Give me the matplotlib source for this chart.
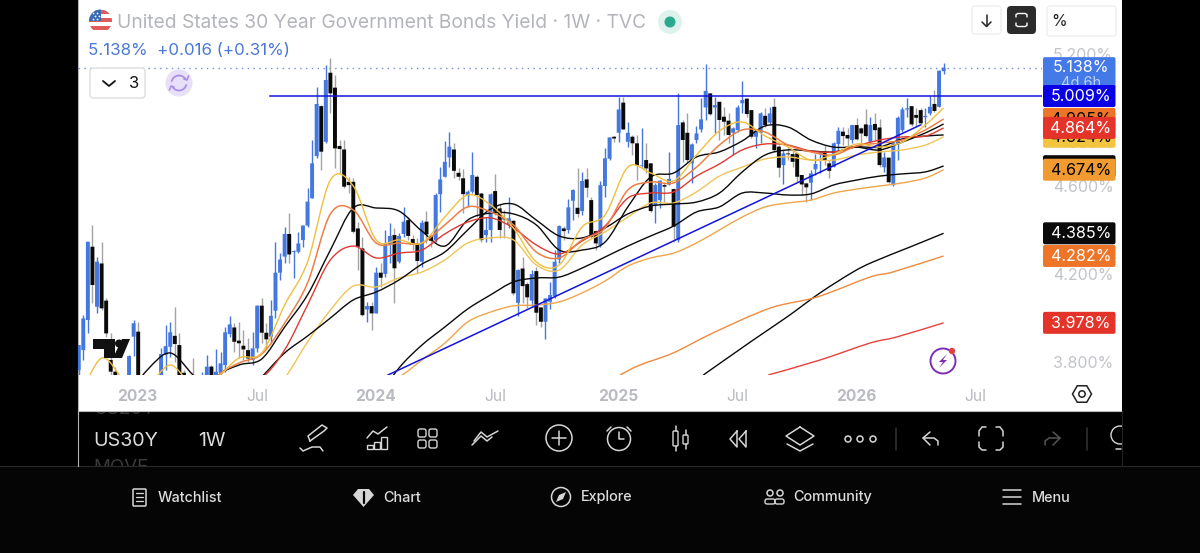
import numpy as np
import matplotlib
matplotlib.use("Agg")
import matplotlib.pyplot as plt
from matplotlib.patches import FancyBboxPatch, Circle, Rectangle, Polygon, Arc, PathPatch
from matplotlib.path import Path

plt.rcParams['font.family'] = ['Inter', 'DejaVu Sans']

# --- weekly candles, US30Y ---
opens = [
    3.763, 3.854, 3.991, 4.324, 4.051, 4.248, 4.079, 3.809, 3.756, 3.700,
    3.640, 3.718, 3.915, 3.938, 3.700, 3.640, 3.660, 3.710, 3.718, 3.832,
    3.869, 3.919, 3.877, 3.751, 3.680, 3.720, 3.700, 3.690, 3.741, 3.779,
    3.726, 3.751, 3.786, 3.927, 3.957, 3.897, 3.874, 3.854, 3.809, 3.862,
    4.056, 3.933, 3.915, 4.033, 4.206, 4.279, 4.382, 4.300, 4.301, 4.354,
    4.420, 4.544, 4.736, 4.963, 4.801, 5.115, 5.047, 4.782, 4.766, 4.619,
    4.619, 4.407, 4.316, 4.039, 4.054, 4.021, 4.206, 4.200, 4.336, 4.377,
    4.256, 4.382, 4.445, 4.359, 4.339, 4.256, 4.438, 4.373, 4.354, 4.563,
    4.642, 4.730, 4.766, 4.660, 4.635, 4.556, 4.574, 4.642, 4.566, 4.377,
    4.400, 4.577, 4.498, 4.453, 4.423, 4.442, 4.069, 4.225, 4.154, 4.079,
    4.213, 4.048, 3.983, 4.074, 4.100, 4.266, 4.407, 4.400, 4.533, 4.501,
    4.486, 4.630, 4.536, 4.395, 4.332, 4.600, 4.724, 4.824, 4.842, 4.979,
    4.801, 4.824, 4.794, 4.692, 4.718, 4.703, 4.513, 4.536, 4.604, 4.607,
    4.586, 4.354, 4.889, 4.842, 4.703, 4.809, 4.857, 4.957, 5.021, 4.957,
    4.983, 4.915, 4.897, 4.842, 4.854, 4.976, 4.997, 4.945, 4.824, 4.842,
    4.919, 4.888, 4.960, 4.779, 4.695, 4.748, 4.745, 4.748, 4.650, 4.612,
    4.615, 4.676, 4.745, 4.756, 4.703, 4.688, 4.791, 4.847, 4.832, 4.809,
    4.877, 4.862, 4.880, 4.801, 4.882, 4.866, 4.685, 4.729, 4.604, 4.794,
    4.854, 4.948, 4.963, 4.923, 4.945, 4.913, 4.930, 4.973, 4.960, 5.122,
]
highs = [
    3.877, 4.013, 4.347, 4.423, 4.279, 4.347, 4.089, 3.930, 3.779, 3.700,
    3.720, 3.832, 3.991, 3.983, 3.710, 3.720, 3.720, 3.720, 3.862, 3.968,
    3.983, 4.051, 3.930, 3.763, 3.740, 3.816, 3.720, 3.756, 3.832, 3.786,
    3.857, 3.847, 3.960, 4.010, 3.976, 3.980, 3.945, 3.910, 3.938, 4.059,
    4.089, 3.976, 4.082, 4.347, 4.294, 4.415, 4.476, 4.309, 4.392, 4.423,
    4.589, 4.809, 5.051, 4.968, 5.150, 5.180, 5.104, 4.809, 4.809, 4.642,
    4.635, 4.438, 4.370, 4.074, 4.074, 4.233, 4.248, 4.400, 4.430, 4.407,
    4.385, 4.506, 4.460, 4.377, 4.362, 4.445, 4.486, 4.377, 4.569, 4.685,
    4.806, 4.847, 4.794, 4.680, 4.676, 4.582, 4.756, 4.650, 4.566, 4.460,
    4.566, 4.654, 4.516, 4.491, 4.551, 4.445, 4.225, 4.279, 4.165, 4.218,
    4.233, 4.051, 4.089, 4.165, 4.309, 4.423, 4.420, 4.539, 4.585, 4.680,
    4.665, 4.680, 4.551, 4.400, 4.622, 4.774, 4.824, 4.827, 5.006, 5.006,
    4.892, 4.832, 4.832, 4.862, 4.797, 4.703, 4.612, 4.627, 4.619, 4.756,
    4.589, 5.021, 4.900, 4.930, 4.794, 4.874, 4.998, 5.153, 5.024, 5.006,
    4.983, 4.960, 4.930, 4.870, 4.968, 5.077, 4.998, 4.945, 4.854, 4.938,
    4.953, 4.960, 4.998, 4.786, 4.763, 4.779, 4.763, 4.748, 4.650, 4.615,
    4.673, 4.745, 4.756, 4.786, 4.718, 4.801, 4.870, 4.866, 4.862, 4.877,
    4.907, 4.870, 4.948, 4.915, 4.930, 4.903, 4.756, 4.729, 4.794, 4.918,
    4.960, 5.001, 4.963, 4.953, 4.953, 4.953, 5.009, 5.036, 5.127, 5.160,
]
lows = [
    3.720, 3.809, 3.930, 4.066, 4.021, 4.036, 3.915, 3.725, 3.703, 3.620,
    3.620, 3.703, 3.827, 3.703, 3.640, 3.620, 3.640, 3.650, 3.703, 3.763,
    3.824, 3.801, 3.703, 3.703, 3.660, 3.660, 3.640, 3.670, 3.718, 3.703,
    3.703, 3.733, 3.756, 3.915, 3.847, 3.816, 3.809, 3.801, 3.786, 3.847,
    3.885, 3.862, 3.885, 3.998, 4.173, 4.248, 4.248, 4.180, 4.294, 4.324,
    4.415, 4.544, 4.726, 4.673, 4.794, 4.930, 4.680, 4.657, 4.589, 4.566,
    4.388, 4.218, 4.010, 3.983, 3.945, 4.021, 4.142, 4.188, 4.248, 4.066,
    4.248, 4.370, 4.354, 4.309, 4.203, 4.233, 4.339, 4.324, 4.347, 4.483,
    4.639, 4.688, 4.635, 4.627, 4.476, 4.506, 4.566, 4.460, 4.347, 4.347,
    4.347, 4.468, 4.362, 4.362, 4.407, 4.104, 4.010, 4.066, 4.044, 4.051,
    3.968, 3.960, 3.903, 4.039, 4.089, 4.248, 4.354, 4.388, 4.445, 4.460,
    4.468, 4.551, 4.362, 4.309, 4.324, 4.551, 4.718, 4.801, 4.801, 4.857,
    4.779, 4.741, 4.627, 4.688, 4.657, 4.483, 4.430, 4.498, 4.529, 4.604,
    4.347, 4.347, 4.710, 4.710, 4.612, 4.794, 4.847, 4.900, 4.923, 4.839,
    4.809, 4.832, 4.794, 4.741, 4.847, 4.930, 4.915, 4.816, 4.771, 4.794,
    4.869, 4.882, 4.756, 4.642, 4.607, 4.718, 4.688, 4.619, 4.559, 4.529,
    4.536, 4.650, 4.660, 4.695, 4.635, 4.688, 4.756, 4.786, 4.779, 4.794,
    4.809, 4.779, 4.824, 4.794, 4.809, 4.688, 4.662, 4.612, 4.600, 4.718,
    4.847, 4.915, 4.873, 4.869, 4.877, 4.869, 4.923, 4.938, 4.960, 5.109,
]
closes = [
    3.877, 3.998, 4.347, 4.150, 4.256, 4.044, 3.930, 3.756, 3.718, 3.640,
    3.700, 3.827, 3.976, 3.718, 3.660, 3.700, 3.710, 3.670, 3.836, 3.872,
    3.935, 3.882, 3.726, 3.718, 3.720, 3.690, 3.660, 3.730, 3.779, 3.718,
    3.756, 3.794, 3.935, 3.971, 3.892, 3.885, 3.857, 3.816, 3.862, 4.056,
    3.933, 3.903, 4.010, 4.206, 4.266, 4.382, 4.289, 4.304, 4.339, 4.420,
    4.529, 4.703, 4.973, 4.756, 5.082, 5.021, 4.771, 4.768, 4.597, 4.604,
    4.392, 4.324, 4.013, 4.054, 4.021, 4.206, 4.183, 4.339, 4.373, 4.226,
    4.373, 4.438, 4.373, 4.332, 4.259, 4.433, 4.380, 4.351, 4.559, 4.630,
    4.710, 4.779, 4.669, 4.642, 4.563, 4.574, 4.650, 4.559, 4.354, 4.400,
    4.562, 4.483, 4.400, 4.448, 4.453, 4.112, 4.218, 4.145, 4.094, 4.200,
    4.024, 3.983, 4.089, 4.104, 4.256, 4.418, 4.395, 4.503, 4.582, 4.473,
    4.623, 4.592, 4.369, 4.339, 4.604, 4.726, 4.821, 4.816, 4.948, 4.857,
    4.842, 4.794, 4.695, 4.695, 4.680, 4.486, 4.604, 4.624, 4.597, 4.632,
    4.415, 4.877, 4.809, 4.718, 4.789, 4.839, 4.903, 5.032, 4.926, 4.968,
    4.900, 4.892, 4.832, 4.862, 4.957, 4.991, 4.927, 4.824, 4.851, 4.930,
    4.877, 4.930, 4.763, 4.683, 4.748, 4.744, 4.710, 4.642, 4.607, 4.594,
    4.657, 4.700, 4.751, 4.718, 4.669, 4.794, 4.851, 4.827, 4.816, 4.877,
    4.812, 4.839, 4.827, 4.877, 4.854, 4.695, 4.730, 4.617, 4.794, 4.910,
    4.948, 4.953, 4.880, 4.910, 4.885, 4.919, 4.960, 4.941, 5.124, 5.138,
]

# --- moving averages, read every 5 weeks ---
nan = float('nan')
ma_weeks = list(range(0, 190, 5)) + [189]
ma_fast_yellow = [
    3.627, 3.818, 3.718, 3.695, 3.786, 3.695, 3.727, 3.818, 3.841, 4.059,
    4.255, 4.627, 4.600, 4.355, 4.355, 4.341, 4.459, 4.559, 4.514, 4.409,
    4.255, 4.241, 4.414, 4.468, 4.686, 4.659, 4.623, 4.741, 4.850, 4.891,
    4.827, 4.777, 4.718, 4.745, 4.791, 4.777, 4.800, 4.877, 4.955,
]
ma_orange = [
    nan, nan, nan, nan, nan, 3.536, 3.727, 3.795, 3.836, 3.977,
    4.159, 4.473, 4.491, 4.341, 4.341, 4.341, 4.423, 4.505, 4.482, 4.423,
    4.300, 4.273, 4.355, 4.409, 4.582, 4.618, 4.614, 4.686, 4.786, 4.855,
    4.845, 4.786, 4.755, 4.741, 4.782, 4.795, 4.809, 4.855, 4.905,
]
ma_black_fast = [
    nan, nan, nan, nan, nan, 3.536, 3.727, 3.786, 3.814, 3.959,
    4.105, 4.309, 4.500, 4.500, 4.486, 4.395, 4.327, 4.445, 4.477, 4.473,
    4.423, 4.309, 4.309, 4.345, 4.505, 4.641, 4.659, 4.732, 4.755, 4.805,
    4.873, 4.868, 4.809, 4.777, 4.777, 4.764, 4.800, 4.841, 4.882,
]
ma_red = [
    nan, nan, nan, nan, nan, nan, 3.536, 3.695, 3.727, 3.855,
    4.059, 4.264, 4.327, 4.273, 4.295, 4.309, 4.382, 4.436, 4.455, 4.409,
    4.332, 4.291, 4.350, 4.418, 4.545, 4.568, 4.573, 4.645, 4.700, 4.764,
    4.791, 4.786, 4.759, 4.755, 4.782, 4.809, 4.823, 4.827, 4.864,
]
ma_black_mid = [
    nan, nan, 3.627, 3.764, 3.841, 3.741, 3.650, 3.627, 3.732, 3.841,
    3.918, 4.000, 4.082, 4.118, 4.173, 4.245, 4.300, 4.400, 4.495, 4.518,
    4.445, 4.373, 4.364, 4.409, 4.473, 4.509, 4.518, 4.527, 4.568, 4.664,
    4.741, 4.764, 4.759, 4.755, 4.777, 4.777, 4.814, 4.827, 4.832,
]
ma_yellow = [
    nan, nan, nan, nan, nan, nan, nan, nan, 3.627, 3.727,
    3.891, 4.036, 4.145, 4.141, 4.182, 4.209, 4.264, 4.341, 4.364, 4.355,
    4.241, 4.218, 4.332, 4.391, 4.459, 4.523, 4.523, 4.573, 4.645, 4.686,
    4.723, 4.732, 4.718, 4.718, 4.741, 4.755, 4.764, 4.786, 4.824,
]
ma_black_slow = [
    nan, nan, nan, nan, nan, nan, nan, nan, nan, nan,
    nan, nan, nan, 3.627, 3.773, 3.877, 3.959, 4.041, 4.105, 4.164,
    4.182, 4.186, 4.227, 4.277, 4.327, 4.373, 4.418, 4.482, 4.505, 4.568,
    4.568, 4.559, 4.564, 4.605, 4.627, 4.645, 4.655, 4.664, 4.691,
]
ma_amber = [
    nan, nan, nan, nan, nan, nan, nan, nan, nan, nan,
    nan, nan, nan, 3.695, 3.732, 3.809, 3.886, 3.982, 4.027, 4.055,
    4.059, 4.073, 4.114, 4.168, 4.236, 4.273, 4.295, 4.341, 4.400, 4.459,
    4.505, 4.523, 4.536, 4.568, 4.586, 4.600, 4.614, 4.636, 4.674,
]

# the three long averages only show up near the end
long_black_weeks = [136.5, 147.4, 154.8, 162.0, 169.2, 173.6, 181.7, 189]
long_black = [3.741, 3.900, 4.005, 4.114, 4.209, 4.255, 4.323, 4.385]
long_orange_weeks = [118.3, 122.6, 129.9, 138.6, 151.1, 161.3, 172.9, 177.9, 189]
long_orange = [3.741, 3.786, 3.841, 3.932, 4.045, 4.095, 4.186, 4.209, 4.282]
long_red_weeks = [150.7, 162.0, 172.9, 178.8, 189]
long_red = [3.741, 3.809, 3.886, 3.914, 3.978]

# drawn levels
last_price = 5.138
resistance = 5.009
resistance_weeks = [41.8, 210.5]
trend_weeks = [67.6, 183.9]
trend_prices = [3.741, 4.877]

# axis labels
x_ticks = [12.74, 38.97, 64.76, 91.0, 117.9, 143.9, 169.9, 195.9]
x_labels = ['2023', 'Jul', '2024', 'Jul', '2025', 'Jul', '2026', 'Jul']
y_ticks = [3.8, 4.0, 4.2, 4.4, 4.6, 4.8, 5.0, 5.2]

# price tags on the scale, drawn in this order
tag_prices = [5.138, 4.905, 4.824, 4.69, 4.674, 4.864, 5.009, 4.385, 4.282, 3.978]
tag_texts = ['5.138%', '4.905%', '4.824%', '', '4.674%', '4.864%', '5.009%', '4.385%', '4.282%', '3.978%']
tag_colors = ['#4479e8', '#ee7428', '#f2c440', '#0a0a0a', '#f09a30', '#e4342a', '#0a00e6', '#0a0a0a', '#ee7428', '#e4342a']
tag_text_colors = ['white', 'black', 'black', 'white', 'black', 'white', 'white', 'white', 'white', 'white']

BLUE = '#4478e0'
GREY_TXT = '#b9bbc1'
ICON = '#d6d6d6'

fig = plt.figure(figsize=(12, 5.53), dpi=100, facecolor='black')

# background panels
bg = fig.add_axes([0, 0, 1, 1], zorder=0)
bg.set_xlim(0, 1200)
bg.set_ylim(553, 0)
bg.axis('off')
bg.add_patch(Rectangle((78, 0), 1044, 411, fc='white', ec='none'))
bg.add_patch(Rectangle((0, 466), 1200, 87, fc='#050505', ec='none'))
bg.plot([0, 1200], [466, 466], color='#2a2a2a', lw=0.8)
bg.plot([78, 78], [0, 466], color='#b4b4b4', lw=0.8)
bg.plot([78, 1122], [411, 411], color='#bcbcbc', lw=0.8)
bg.plot([1122, 1122], [411, 466], color='#222222', lw=0.8)

# --- chart ---
chart = fig.add_axes([78 / 1200, (553 - 375) / 553, 964 / 1200, 327 / 553], zorder=1)
chart.patch.set_visible(False)
for s in chart.spines.values():
    s.set_visible(False)
chart.set_xlim(-0.153, 210.5)
chart.set_ylim(3.7409, 5.2273)

weeks = np.arange(len(opens))
o = np.array(opens)
c = np.array(closes)
h = np.array(highs)
l = np.array(lows)
up = c >= o
top = np.maximum(o, c)
bot = np.minimum(o, c)

chart.vlines(weeks[up], l[up], h[up], color=BLUE, lw=1.0, zorder=2)
chart.vlines(weeks[~up], l[~up], h[~up], color='#a3a3a3', lw=1.0, zorder=2)
# bodies left unsnapped so they keep their full width
chart.bar(weeks[up], (top - bot)[up], bottom=bot[up], width=0.86, color=BLUE, zorder=3, snap=False)
chart.bar(weeks[~up], (top - bot)[~up], bottom=bot[~up], width=0.86, color='#0a0a0a', zorder=3, snap=False)


def ma_line(xs, ys, color, lw=1.0):
    # rounded curve through the readings, the way the platform draws its averages
    pts = np.array([(x, y) for x, y in zip(xs, ys) if y == y], dtype=float)
    verts = [pts[0]]
    codes = [Path.MOVETO]
    for i in range(len(pts) - 1):
        p0 = pts[max(i - 1, 0)]
        p1 = pts[i]
        p2 = pts[i + 1]
        p3 = pts[min(i + 2, len(pts) - 1)]
        verts += [p1 + (p2 - p0) / 6, p2 - (p3 - p1) / 6, p2]
        codes += [Path.CURVE4] * 3
    chart.add_patch(PathPatch(Path(verts, codes), fc='none', ec=color, lw=lw, zorder=4))


ma_line(ma_weeks, ma_yellow, '#f0c555')
ma_line(ma_weeks, ma_amber, '#efa54a')
ma_line(ma_weeks, ma_black_slow, '#0a0a0a')
ma_line(ma_weeks, ma_black_mid, '#0a0a0a')
ma_line(ma_weeks, ma_black_fast, '#0a0a0a')
ma_line(ma_weeks, ma_red, '#e03a32')
ma_line(ma_weeks, ma_orange, '#ec7f45', 1.1)
ma_line(ma_weeks, ma_fast_yellow, '#efbf3e')
ma_line(long_black_weeks, long_black, '#0a0a0a')
ma_line(long_orange_weeks, long_orange, '#ee8a3e')
ma_line(long_red_weeks, long_red, '#e5423c')

chart.plot(resistance_weeks, [resistance, resistance], color='#1414dc', lw=1.1, zorder=5)
chart.plot(trend_weeks, trend_prices, color='#1414dc', lw=1.1, zorder=5)
chart.plot([-0.153, 210.5], [last_price, last_price], color='#6f8fd8', lw=1.0,
           linestyle=(0, (1, 3.2)), zorder=1)

chart.set_xticks(x_ticks)
chart.set_xticklabels(x_labels)
for lab in chart.get_xticklabels():
    lab.set_fontweight('bold' if lab.get_text()[0] == '2' else 'normal')
chart.tick_params(axis='x', length=0, pad=10, labelsize=11.2, labelcolor=GREY_TXT)
chart.yaxis.tick_right()
chart.set_yticks(y_ticks)
chart.set_yticklabels(['%.3f%%' % v for v in y_ticks])
chart.tick_params(axis='y', length=0, pad=8, labelsize=11.5, labelcolor='#c2c4c9')

# --- header, price tags and toolbars ---
ui = fig.add_axes([0, 0, 1, 1], zorder=2)
ui.set_xlim(0, 1200)
ui.set_ylim(553, 0)
ui.axis('off')


def rbox(x0, y0, x1, y1, fc, ec='none', r=3, lw=1.0, z=3):
    ui.add_patch(FancyBboxPatch((x0, y0), x1 - x0, y1 - y0, boxstyle='round,pad=0,rounding_size=%s' % r,
                                fc=fc, ec=ec, lw=lw, zorder=z))


def line(xs, ys, color=ICON, lw=1.1, z=6):
    ui.plot(xs, ys, color=color, lw=lw, zorder=z, solid_capstyle='round', solid_joinstyle='round')


def ring(x, y, r, color=ICON, lw=1.1, fc='none', z=6):
    ui.add_patch(Circle((x, y), r, fc=fc, ec=color, lw=lw, zorder=z))


def price_to_y(price):
    # price scale position in figure pixels
    return ui.transData.inverted().transform(chart.transData.transform((0, price)))[1]


# flag
disc = Circle((100.5, 21), 11.5, transform=ui.transData)
for i, col in enumerate(['#df5a5a', 'white', '#df5a5a', 'white', '#df5a5a', 'white']):
    st = Rectangle((88, 9.5 + i * 4), 25, 4, fc=col, ec='none', zorder=4)
    ui.add_patch(st)
    st.set_clip_path(disc)
canton = Rectangle((88, 9), 13, 12, fc='#3c6db4', ec='none', zorder=5)
ui.add_patch(canton)
canton.set_clip_path(disc)
star_x = [93, 97, 95, 99, 93, 97]
star_y = [13, 13, 16, 16, 19, 19]
ui.scatter(star_x, star_y, s=1.5, color='white', zorder=6, linewidths=0)

ui.text(117, 23, 'United States 30 Year Government Bonds Yield · 1W · TVC', fontsize=13.85,
        color='#b3b5bb', va='center', ha='left')
ring(670, 22, 12, color='none', fc='#ddf2ec')
ring(670, 22, 5.5, color='none', fc='#2aa98e')
ui.text(88, 50.5, '5.138%  +0.016 (+0.31%)', fontsize=12.2, color='#4a78d8', va='center', ha='left')

# top right buttons
rbox(972, 6, 1001, 34, 'white', ec='#eeeeee')
line([986.5, 986.5], [15, 26], color='#222222')
line([982, 986.5, 991], [22, 26.5, 22], color='#222222')
rbox(1007, 6, 1036, 34, '#2b2b2b', r=4)
line([1016, 1016, 1018, 1025, 1027, 1027], [17, 14.5, 13.5, 13.5, 14.5, 17], color='white', lw=1.0)
line([1016, 1016, 1018, 1025, 1027, 1027], [23, 25.5, 26.5, 26.5, 25.5, 23], color='white', lw=1.0)
rbox(1047, 6, 1116, 36, 'white', ec='#eeeeee')
ui.text(1059, 22, '%', fontsize=11.5, color='#222222', va='center', ha='center')

# interval button and refresh
rbox(90, 68, 145, 98, 'white', ec='#dddddd', r=3, z=7)
line([103, 109, 115], [81, 86, 81], color='#111111', lw=1.3, z=8)
ui.text(134, 83.5, '3', fontsize=12, color='#111111', va='center', ha='center', zorder=8)
ring(179, 83, 13.5, color='none', fc='#e8e0f8', z=7)
ui.add_patch(Arc((179, 83), 15, 15, theta1=190, theta2=330, ec='#ab8fe6', lw=1.3, zorder=8))
ui.add_patch(Arc((179, 83), 15, 15, theta1=10, theta2=150, ec='#ab8fe6', lw=1.3, zorder=8))
line([184, 187, 188.5], [79, 80, 76], color='#ab8fe6', lw=1.2, z=8)
line([174, 171, 169.5], [87, 86, 90], color='#ab8fe6', lw=1.2, z=8)

# TV logo
ui.add_patch(Polygon([(93, 339), (115, 339), (115, 358), (104, 358), (104, 349), (93, 349)], fc='#111111', ec='none', zorder=6))
ui.add_patch(Circle((119, 343.5), 4, fc='#111111', ec='none', zorder=6))
ui.add_patch(Polygon([(122, 339), (130, 339), (122, 358), (113, 358)], fc='#111111', ec='none', zorder=6))

# lightning badge
ring(943, 361, 12.5, color='#7b2fb5', lw=1.4)
ui.add_patch(Polygon([(947, 354), (939, 362), (943, 362), (939, 368), (947, 360), (943, 360)], fc='#7b2fb5', ec='none', zorder=6))
ring(952, 351, 3.2, color='none', fc='#e04040', z=7)

# settings hexagon
hex_t = np.deg2rad(np.arange(0, 360, 60))
ui.add_patch(Polygon(np.c_[1082 + 9.5 * np.cos(hex_t), 394 + 9.5 * np.sin(hex_t)], fc='white', ec='#222222', lw=1.1, zorder=6))
ring(1082, 394, 3.2, color='#222222')

# price tags
for price, txt, col, tcol in zip(tag_prices, tag_texts, tag_colors, tag_text_colors):
    y = price_to_y(price)
    if price == last_price:
        rbox(1043, y - 10.5, 1115.5, y + 20.5, col, r=2, z=4)
        ui.text(1081, y + 15.5, '4d 6h', fontsize=10.5, color='#bcd0f8', va='center', ha='center', zorder=4)
    else:
        rbox(1043, y - 11, 1115.5, y + 11, col, r=2, z=4)
    ui.text(1081, y + 0.3, txt, fontsize=11.6, color=tcol, va='center', ha='center', zorder=4)

# toolbar
clip = Rectangle((78, 412), 1044, 54, transform=ui.transData)
for txt, y in [('US20Y', 409.5), ('MOVE', 467)]:
    t = ui.text(93, y, txt, fontsize=13.5, color='#3a3a3a', va='center', ha='left', zorder=2)
    t.set_clip_path(clip)
    t.set_clip_on(True)
ui.text(93, 441, 'US30Y', fontsize=14.2, color='#dcdcdc', va='center', ha='left')
ui.text(198, 441, '1W', fontsize=14.2, color='#dcdcdc', va='center', ha='left')

# pen
line([310, 308, 322, 327, 324, 310], [441, 436, 425, 428, 431, 441])
line([300, 303, 312, 320, 323], [448, 451, 447, 447, 451])
# bars and trend
for bx, bh in [(367, 4), (374, 7), (381, 12)]:
    ui.add_patch(Rectangle((bx, 449 - bh), 6, bh, fc='none', ec=ICON, lw=1.0, zorder=6))
line([367, 373, 378, 387], [438, 431, 434, 427])
# grid
for gx, gy in [(418, 429), (429, 429), (418, 440), (429, 440)]:
    rbox(gx, gy, gx + 8, gy + 8, 'none', ec=ICON, r=2, lw=1.0, z=6)
# wave
line([472, 481, 487, 492], [445, 436, 441, 437])
line([474, 481, 487, 498], [441, 432, 437, 431])
# plus
ring(559, 438, 13)
line([552, 566], [438, 438])
line([559, 559], [431, 445])
# alarm
ring(619, 439, 11.5)
line([619, 619, 624], [432, 439, 439])
line([607, 611], [431, 427])
line([631, 627], [431, 427])
# candles
rbox(673, 431, 678, 446, 'none', ec=ICON, r=1, lw=1.0, z=6)
rbox(683, 435, 688, 444, 'none', ec=ICON, r=1, lw=1.0, z=6)
line([675.5, 675.5], [426, 431])
line([675.5, 675.5], [446, 451])
line([685.5, 685.5], [430, 435])
line([685.5, 685.5], [444, 449])
# rewind
line([737, 730, 737, 737], [431, 439, 447, 431])
line([746, 739, 746, 746], [431, 439, 447, 431])
# layers
line([800, 814, 800, 786, 800], [427, 436, 445, 436, 427])
line([787, 800, 813], [444, 451, 444])
# dots
for dx in [848, 860, 873]:
    ring(dx, 439, 3)
line([896, 896], [428, 450], color='#333333')
# undo
line([930, 923, 930], [432, 438, 445])
line([923, 934, 938, 938], [438, 438, 441, 445])
# corners
line([979, 979, 982, 986], [436, 431, 427, 427])
line([996, 1000, 1003, 1003], [427, 427, 431, 436])
line([979, 979, 982, 986], [442, 447, 450, 450])
line([996, 1000, 1003, 1003], [450, 450, 447, 442])
# redo
line([1053, 1060, 1053], [432, 438, 445], color='#555555')
line([1060, 1049, 1045, 1045], [438, 438, 441, 445], color='#555555')
line([1087, 1087], [428, 450], color='#333333')
# bulb, runs off the panel
bulb = Circle((1120, 435), 9, fc='none', ec=ICON, lw=1.0, zorder=6)
ui.add_patch(bulb)
bulb.set_clip_path(clip)
line([1116, 1121], [449, 449], color=ICON)

# bottom navigation
for txt, x in [('Watchlist', 158), ('Chart', 383), ('Explore', 581), ('Community', 793), ('Menu', 1032)]:
    ui.text(x, 497.5, txt, fontsize=10.4, color='#dcdcdc', va='center', ha='left', fontweight='medium')
rbox(133, 489, 146, 506, 'none', ec=ICON, r=1, lw=1.1, z=6)
for ly in [493, 497, 501]:
    line([136, 143], [ly, ly], lw=0.9)
ui.add_patch(Polygon([(358, 489), (369, 489), (374, 495), (363.5, 507), (353, 495)], fc=ICON, ec='none', zorder=6))
line([363.5, 363.5], [492, 503], color='#050505', lw=1.6)
ring(561, 497, 9.5)
ui.add_patch(Polygon([(566, 492), (563, 499), (556, 502), (559, 495)], fc=ICON, ec='none', zorder=6))
ring(770, 493, 3)
ring(780, 493, 3)
rbox(765, 499, 775, 504, 'none', ec=ICON, r=2, lw=1.0, z=6)
rbox(775, 499, 784, 504, 'none', ec=ICON, r=2, lw=1.0, z=6)
for ly in [490, 497, 504]:
    line([1003, 1021], [ly, ly], lw=1.1)

fig.savefig('out.png', dpi=100, facecolor='black')
